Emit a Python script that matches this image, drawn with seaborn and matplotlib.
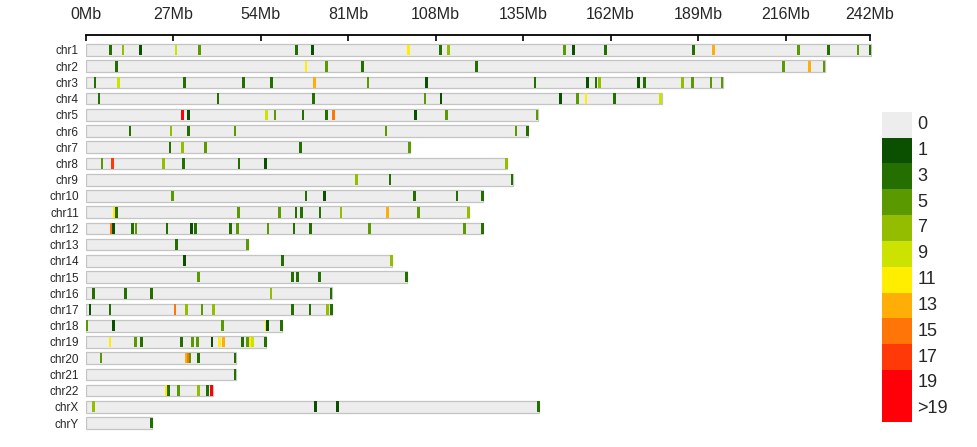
import numpy as np
import pandas as pd
import seaborn as sns
import matplotlib.pyplot as plt
from matplotlib.colors import ListedColormap

# chromosome names and lengths (Mb)
chroms = ["chr1", "chr2", "chr3", "chr4", "chr5", "chr6", "chr7", "chr8", "chr9", "chr10",
          "chr11", "chr12", "chr13", "chr14", "chr15", "chr16", "chr17", "chr18", "chr19",
          "chr20", "chr21", "chr22", "chrX", "chrY"]
lengths = [242.5, 228.2, 196.8, 177.8, 139.7, 136.6, 100.1, 130.1, 131.8, 122.7,
           118.4, 122.7, 50.2, 94.6, 99.1, 75.9, 76.1, 60.6, 55.6,
           46.3, 46.3, 39.2, 140.0, 20.6]

# density windows: position (Mb) and count per chromosome
mark_pos = {
    "chr1": [7.6, 11.5, 17.0, 27.9, 35.1, 65.0, 70.1, 99.6, 109.4, 112.0, 147.7, 150.5,
             160.4, 187.7, 193.7, 220.1, 229.3, 238.4, 242.1],
    "chr2": [9.4, 68.0, 74.4, 85.5, 120.7, 215.3, 223.3, 227.9],
    "chr3": [2.9, 10.1, 30.4, 48.6, 57.3, 70.7, 87.1, 105.2, 138.7, 154.9, 157.5, 158.7,
             170.6, 172.5, 184.3, 187.2, 193.0, 196.4],
    "chr4": [4.1, 40.8, 70.2, 104.7, 109.7, 146.6, 151.8, 154.4, 163.2, 177.4],
    "chr5": [29.9, 31.7, 55.9, 58.4, 67.1, 74.4, 76.4, 101.9, 111.4, 139.3],
    "chr6": [13.7, 26.3, 31.8, 46.1, 92.7, 132.8, 136.4],
    "chr7": [26.0, 29.8, 37.0, 66.2, 99.9],
    "chr8": [5.0, 8.3, 24.0, 30.1, 47.3, 55.6, 129.9],
    "chr9": [83.6, 93.9, 131.6],
    "chr10": [26.7, 68.0, 73.6, 101.6, 114.6, 122.5],
    "chr11": [9.0, 9.6, 47.1, 59.8, 64.9, 66.7, 72.3, 78.8, 93.2, 102.7, 118.2],
    "chr12": [7.9, 8.5, 14.4, 15.5, 25.1, 32.7, 33.8, 44.8, 46.8, 56.3, 64.3, 69.4,
              87.5, 116.9, 122.5],
    "chr13": [28.1, 50.0],
    "chr14": [30.6, 60.7, 94.4],
    "chr15": [34.8, 63.9, 65.4, 72.1, 98.9],
    "chr16": [2.4, 12.3, 20.4, 57.2, 75.7],
    "chr17": [1.3, 7.5, 27.6, 31.0, 35.9, 39.4, 63.8, 69.2, 74.6, 75.8],
    "chr18": [0.3, 8.6, 42.3, 55.7, 56.2, 60.4],
    "chr19": [7.5, 15.4, 17.2, 29.6, 33.0, 34.4, 39.0, 41.3, 42.5, 48.3, 49.9, 50.9,
              51.5, 55.4],
    "chr20": [4.7, 31.0, 31.6, 32.2, 34.8, 46.1],
    "chr21": [46.1],
    "chr22": [25.0, 25.5, 28.6, 34.8, 37.7, 38.9],
    "chrX": [2.4, 71.0, 77.8, 139.8],
    "chrY": [20.4],
}
mark_val = {
    "chr1": [3, 7, 1, 9, 5, 3, 1, 11, 3, 7, 5, 1, 3, 3, 13, 5, 3, 5, 3],
    "chr2": [3, 11, 5, 3, 3, 5, 13, 5],
    "chr3": [3, 9, 3, 3, 3, 13, 5, 1, 3, 1, 3, 7, 1, 3, 7, 5, 5, 5],
    "chr4": [3, 3, 3, 5, 1, 1, 5, 11, 3, 9],
    "chr5": [19, 1, 9, 5, 3, 3, 15, 1, 5, 5],
    "chr6": [3, 7, 3, 5, 5, 5, 3],
    "chr7": [3, 7, 5, 3, 5],
    "chr8": [5, 17, 7, 3, 3, 1, 7],
    "chr9": [7, 3, 3],
    "chr10": [5, 3, 1, 3, 3, 3],
    "chr11": [11, 3, 5, 5, 3, 3, 3, 7, 13, 5, 7],
    "chr12": [15, 1, 3, 5, 3, 1, 3, 3, 5, 5, 3, 3, 5, 5, 3],
    "chr13": [3, 5],
    "chr14": [1, 3, 7],
    "chr15": [5, 3, 3, 3, 3],
    "chr16": [3, 3, 3, 7, 3],
    "chr17": [1, 3, 15, 7, 5, 7, 3, 3, 7, 3],
    "chr18": [5, 1, 5, 11, 1, 3],
    "chr19": [11, 5, 3, 3, 5, 5, 1, 11, 13, 3, 5, 11, 9, 3],
    "chr20": [5, 13, 15, 5, 3, 3],
    "chr21": [3],
    "chr22": [11, 3, 5, 7, 3, 19],
    "chrX": [7, 1, 1, 3],
    "chrY": [3],
}

legend_labels = ["0", "1", "3", "5", "7", "9", "11", "13", "15", "17", "19", ">19"]
legend_colors = ["#ededed", "#0b5000", "#246f00", "#5a9a00", "#94bd00", "#cce200",
                 "#ffee00", "#ffae08", "#ff7508", "#ff3a08", "#ff0008", "#ff0008"]
tick_pos = [0, 27, 54, 81, 108, 135, 162, 189, 216, 242]


def count_color(c):
    if c > 19:
        return legend_colors[-1]
    return legend_colors[1 + (c - 1) // 2]


sns.set_theme(style="white")
plt.rcParams['font.family'] = ['Liberation Sans', 'DejaVu Sans']

fig = plt.figure(figsize=(9.77, 4.47), dpi=100)
ax = fig.add_axes([85.7 / 977, 1 - 440 / 447, 786 / 977, (440 - 34.5) / 447])

df = pd.DataFrame({"chrom": chroms, "length": lengths})
sns.barplot(data=df, x="length", y="chrom", orient="h", color="#ededed",
            edgecolor="#c4c4c4", linewidth=0.9, width=0.72, saturation=1, ax=ax)

bar_h = 0.66
for i, ch in enumerate(chroms):
    pos = mark_pos[ch]
    cols = [count_color(v) for v in mark_val[ch]]
    ax.barh([i] * len(pos), [0.85] * len(pos), left=np.array(pos) - 0.425,
            height=bar_h, color=cols, linewidth=0)

ax.set_xlim(0, 242.6)
ax.set_ylim(23 + (440 - 423) / 16.22, -(50 - 34.5) / 16.22)
ax.set_xlabel("")
ax.set_ylabel("")
ax.xaxis.tick_top()
ax.set_xticks(tick_pos)
ax.set_xticklabels([f"{t}Mb" for t in tick_pos], fontsize=11.5)
ax.tick_params(axis="x", direction="in", length=4, width=1.2, color="black",
               pad=9, top=True, bottom=False)
ax.tick_params(axis="y", length=0, pad=5, labelsize=8.5)
for s in ["left", "right", "bottom"]:
    ax.spines[s].set_visible(False)
ax.spines["top"].set_visible(True)
ax.spines["top"].set_bounds(0, 242)
ax.spines["top"].set_color("black")
ax.spines["top"].set_linewidth(1.3)

# legend as a one-column heatmap
lax = fig.add_axes([882 / 977, 1 - 421.7 / 447, 30 / 977, 310 / 447])
cells = np.arange(len(legend_labels)).reshape(-1, 1)
sns.heatmap(cells, cmap=ListedColormap(legend_colors), cbar=False, ax=lax,
            xticklabels=False, yticklabels=legend_labels, vmin=-0.5,
            vmax=len(legend_labels) - 0.5)
lax.yaxis.tick_right()
lax.tick_params(axis="y", length=0, pad=4, labelsize=13, rotation=0)
for t in lax.get_yticklabels():
    t.set_verticalalignment("center")

fig.savefig("out.png", dpi=100)
